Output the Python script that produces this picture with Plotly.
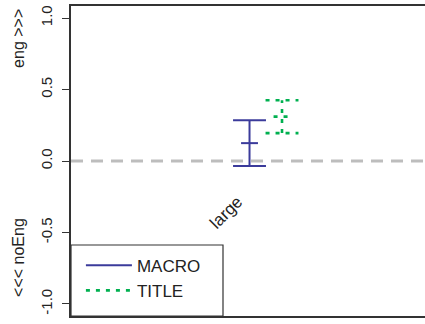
import plotly.graph_objects as go

# ---- data ----
categories = ["large"]
series_names = ["MACRO", "TITLE"]
macro_mean = [0.125]
macro_lower = [-0.035]
macro_upper = [0.285]
title_mean = [0.31]
title_lower = [0.195]
title_upper = [0.425]
ytick_vals = [-1.0, -0.5, 0.0, 0.5, 1.0]
ytick_text = ["-1.0", "-0.5", "0.0", "0.5", "1.0"]

# ---- styling constants ----
FONT = "Liberation Sans, Arial, Helvetica, sans-serif"
TXT = "#222222"
COL_MACRO = "#3b3b9b"
COL_TITLE = "#00b050"
OFFSETS = [-0.15, 0.15]
CAP = 0.152
MID = 0.078


def bar_path(xc, lo, mid, up):
    xs, ys = [], []
    for i, c in enumerate(xc):
        xs += [c, c, None, c - CAP, c + CAP, None, c - CAP, c + CAP, None,
               c - MID, c + MID, None]
        ys += [lo[i], up[i], None, up[i], up[i], None, lo[i], lo[i], None,
               mid[i], mid[i], None]
    return xs, ys


cat_pos = [i + 1 for i in range(len(categories))]

fig = go.Figure()

series = [
    (series_names[0], macro_mean, macro_lower, macro_upper, COL_MACRO, "solid", 2),
    (series_names[1], title_mean, title_lower, title_upper, COL_TITLE, "4px,6px", 2.6),
]
for k, (name, m, lo, up, col, dash, w) in enumerate(series):
    xc = [p + OFFSETS[k] for p in cat_pos]
    xs, ys = bar_path(xc, lo, m, up)
    fig.add_trace(go.Scatter(
        x=xs, y=ys, mode="lines", name=name,
        line=dict(color=col, width=w, dash=dash),
        connectgaps=False, hoverinfo="skip",
    ))

# zero reference line
fig.add_shape(type="line", xref="paper", x0=0, x1=1, yref="y", y0=0, y1=0,
              line=dict(color="#bdbdbd", width=3, dash="12px,8px"), layer="below")

# category label
for i, c in enumerate(categories):
    fig.add_annotation(x=cat_pos[i] - 0.367, y=-0.357, text=c, showarrow=False,
                       textangle=-45, font=dict(size=17, color=TXT, family=FONT),
                       xanchor="center", yanchor="middle")

# axis side titles
fig.add_annotation(xref="paper", yref="paper", x=-0.150, y=(316 - 38) / 310,
                   text="eng >>>", textangle=-90, showarrow=False,
                   font=dict(size=16, color=TXT, family=FONT),
                   xanchor="center", yanchor="middle")
fig.add_annotation(xref="paper", yref="paper", x=-0.150, y=(316 - 257) / 310,
                   text="<<< noEng", textangle=-90, showarrow=False,
                   font=dict(size=16, color=TXT, family=FONT),
                   xanchor="center", yanchor="middle")

# legend box
fig.add_shape(type="rect", xref="paper", yref="paper", x0=0, x1=(223 - 71) / 354,
              y0=0, y1=(316 - 245) / 310, line=dict(color="#333333", width=1.2),
              fillcolor="white", layer="above")

fig.update_layout(
    width=425, height=324,
    margin=dict(l=71, r=0, t=6, b=8, autoexpand=False),
    paper_bgcolor="white", plot_bgcolor="white",
    font=dict(family=FONT, color=TXT, size=15),
    showlegend=True,
    legend=dict(x=0.028, y=0.0235, xanchor="left", yanchor="bottom",
                bgcolor="rgba(0,0,0,0)", borderwidth=0, itemwidth=46,
                font=dict(size=17, color=TXT, family=FONT),
                tracegroupgap=0),
    xaxis=dict(range=[-0.798, 2.470], showgrid=False, zeroline=False,
               showticklabels=False, ticks="", showline=True, mirror=True,
               linecolor="#333333", linewidth=1.5, automargin=False),
    yaxis=dict(range=[-1.084, 1.084], showgrid=False, zeroline=False,
               tickvals=ytick_vals, ticktext=ytick_text, tickangle=-90,
               ticks="outside", ticklen=7, tickcolor="#333333", tickwidth=1,
               showline=True, mirror=False, linecolor="#333333", linewidth=1.5,
               tickfont=dict(size=15, color=TXT, family=FONT),
               ticklabelstandoff=4, automargin=False),
)

fig.write_html("out.html", config={"displayModeBar": False},
               post_script="document.body.style.margin='0';document.body.style.overflow='hidden';")
